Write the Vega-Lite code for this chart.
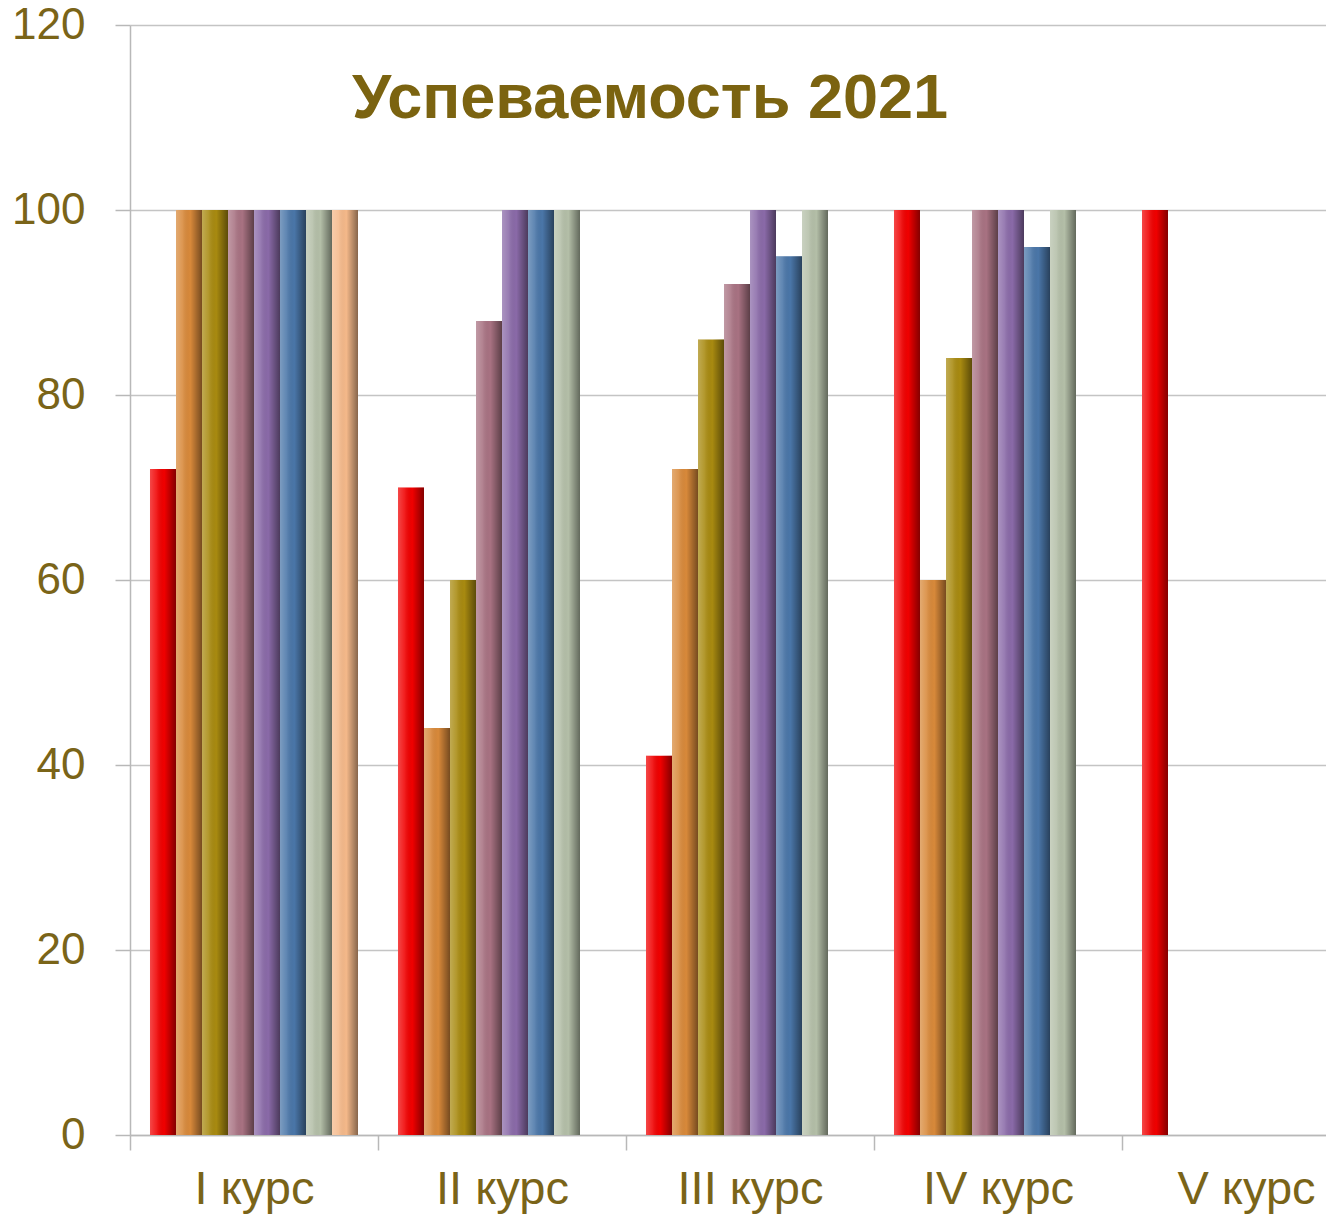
{
  "$schema": "https://vega.github.io/schema/vega-lite/v6.json",
  "autosize": {"type": "none"},
  "width": 1196,
  "height": 1110,
  "padding": {"left": 130, "top": 25, "right": 0, "bottom": 84},
  "background": "white",
  "datasets": {
    "scores": [
      {"course": "I курс", "series": "Ряд 1", "value": 72},
      {"course": "I курс", "series": "Ряд 2", "value": 100},
      {"course": "I курс", "series": "Ряд 3", "value": 100},
      {"course": "I курс", "series": "Ряд 4", "value": 100},
      {"course": "I курс", "series": "Ряд 5", "value": 100},
      {"course": "I курс", "series": "Ряд 6", "value": 100},
      {"course": "I курс", "series": "Ряд 7", "value": 100},
      {"course": "I курс", "series": "Ряд 8", "value": 100},
      {"course": "II курс", "series": "Ряд 1", "value": 70},
      {"course": "II курс", "series": "Ряд 2", "value": 44},
      {"course": "II курс", "series": "Ряд 3", "value": 60},
      {"course": "II курс", "series": "Ряд 4", "value": 88},
      {"course": "II курс", "series": "Ряд 5", "value": 100},
      {"course": "II курс", "series": "Ряд 6", "value": 100},
      {"course": "II курс", "series": "Ряд 7", "value": 100},
      {"course": "III курс", "series": "Ряд 1", "value": 41},
      {"course": "III курс", "series": "Ряд 2", "value": 72},
      {"course": "III курс", "series": "Ряд 3", "value": 86},
      {"course": "III курс", "series": "Ряд 4", "value": 92},
      {"course": "III курс", "series": "Ряд 5", "value": 100},
      {"course": "III курс", "series": "Ряд 6", "value": 95},
      {"course": "III курс", "series": "Ряд 7", "value": 100},
      {"course": "IV курс", "series": "Ряд 1", "value": 100},
      {"course": "IV курс", "series": "Ряд 2", "value": 60},
      {"course": "IV курс", "series": "Ряд 3", "value": 84},
      {"course": "IV курс", "series": "Ряд 4", "value": 100},
      {"course": "IV курс", "series": "Ряд 5", "value": 100},
      {"course": "IV курс", "series": "Ряд 6", "value": 96},
      {"course": "IV курс", "series": "Ряд 7", "value": 100},
      {"course": "V курс", "series": "Ряд 1", "value": 100}
    ],
    "heading": [{"label": "Успеваемость 2021"}]
  },
  "layer": [
    {
      "data": {"name": "scores"},
      "mark": {"type": "bar", "strokeWidth": 0},
      "encoding": {
        "x": {
          "field": "course",
          "type": "nominal",
          "sort": ["I курс", "II курс", "III курс", "IV курс", "V курс"],
          "scale": {"range": [0, 1240], "paddingInner": 0, "paddingOuter": 0},
          "axis": {
            "title": null,
            "tickBand": "extent",
            "tickSize": 15,
            "tickColor": "#b8b8b8",
            "tickWidth": 1.5,
            "domainColor": "#b8b8b8",
            "domainWidth": 1.5,
            "labelAngle": 0,
            "labelFont": "Liberation Sans",
            "labelFontSize": 47,
            "labelColor": "#7A6418",
            "labelPadding": 16,
            "labelOverlap": false,
            "grid": false
          }
        },
        "xOffset": {
          "field": "series",
          "type": "nominal",
          "scale": {
            "domain": ["Ряд 1", "Ряд 2", "Ряд 3", "Ряд 4", "Ряд 5", "Ряд 6", "Ряд 7", "Ряд 8"],
            "paddingInner": 0,
            "paddingOuter": 0.769
          }
        },
        "y": {
          "field": "value",
          "type": "quantitative",
          "scale": {"domain": [0, 120], "nice": false},
          "axis": {
            "title": null,
            "values": [0, 20, 40, 60, 80, 100, 120],
            "tickSize": 15,
            "tickColor": "#b8b8b8",
            "tickWidth": 1.5,
            "domainColor": "#b8b8b8",
            "domainWidth": 1.5,
            "gridColor": "#c4c4c4",
            "gridWidth": 1.5,
            "labelFont": "Liberation Sans",
            "labelFontSize": 44,
            "labelColor": "#7A6418",
            "labelPadding": 30
          }
        },
        "color": {
          "field": "series",
          "type": "nominal",
          "legend": null,
          "scale": {
            "domain": ["Ряд 1", "Ряд 2", "Ряд 3", "Ряд 4", "Ряд 5", "Ряд 6", "Ряд 7", "Ряд 8"],
            "range": ["#F00000", "#D8893A", "#A88A10", "#A87282", "#8A6AA8", "#4A76A8", "#B4BFA8", "#F5B98A"]
          }
        }
      }
    },
    {
      "data": {"name": "scores"},
      "mark": {
        "type": "bar",
        "strokeWidth": 0,
        "fill": {
          "gradient": "linear",
          "x1": 0, "y1": 0, "x2": 1, "y2": 0,
          "stops": [
            {"offset": 0, "color": "rgba(255,255,255,0.28)"},
            {"offset": 0.25, "color": "rgba(255,255,255,0.12)"},
            {"offset": 0.55, "color": "rgba(0,0,0,0)"},
            {"offset": 0.8, "color": "rgba(0,0,0,0.25)"},
            {"offset": 1, "color": "rgba(0,0,0,0.45)"}
          ]
        }
      },
      "encoding": {
        "x": {"field": "course", "type": "nominal", "sort": ["I курс", "II курс", "III курс", "IV курс", "V курс"]},
        "xOffset": {"field": "series", "type": "nominal"},
        "y": {"field": "value", "type": "quantitative"}
      }
    },
    {
      "data": {"name": "heading"},
      "mark": {
        "type": "text",
        "align": "center",
        "baseline": "alphabetic",
        "dx": -100,
        "font": "Liberation Sans",
        "fontSize": 63,
        "fontWeight": "bold",
        "fill": "#7B6310"
      },
      "encoding": {
        "x": {"datum": "III курс", "type": "nominal"},
        "y": {"datum": 110, "type": "quantitative"},
        "text": {"field": "label", "type": "nominal"}
      }
    }
  ],
  "config": {
    "view": {"stroke": null}
  }
}
